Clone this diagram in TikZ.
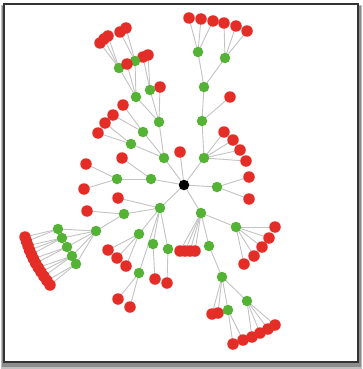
\documentclass[tikz,border=0pt]{standalone}
\definecolor{nodered}{RGB}{228,45,38}
\definecolor{nodegreen}{RGB}{84,178,52}
\definecolor{edgegray}{RGB}{195,195,195}
\pgfdeclarelayer{back}
\pgfdeclarelayer{edges}
\pgfsetlayers{back,edges,main}
\tikzset{
  rd/.style={circle,fill=nodered,inner sep=0pt,minimum size=11.5pt},
  gn/.style={circle,fill=nodegreen,inner sep=0pt,minimum size=10.5pt},
  hub/.style={circle,fill=black,inner sep=0pt,minimum size=10.5pt},
  edge/.style={draw=edgegray,line width=0.9pt},
  framebox/.style={draw=black!80,line width=1.3pt,fill=white},
  shadowbox/.style={fill=black!45}
}
\begin{document}
\begin{tikzpicture}[x=1pt,y=-1pt]
\useasboundingbox (0,0) rectangle (363,369);
\begin{pgfonlayer}{back}
\fill[black!25] (1,5) rectangle (362,369);
\fill[shadowbox] (2,6) rectangle (361,367);
\path[framebox] (4,4) rectangle (358,362);
\end{pgfonlayer}

% centre
\node[hub] (c) at (184,185) {};
% upper branch
\node[gn] (g1) at (204,158) {};
\node[gn] (g2) at (202,121) {};
\node[gn] (g3) at (204,87) {};
\node[gn] (g4) at (198,52) {};
\node[gn] (g5) at (225,58) {};
\node[rd] (r1a) at (224,132) {};
\node[rd] (r1b) at (233,140) {};
\node[rd] (r1c) at (240,150) {};
\node[rd] (r1d) at (246,161) {};
\node[rd] (r2a) at (230,97) {};
\node[rd] (r4a) at (189,18) {};
\node[rd] (r4b) at (201,19) {};
\node[rd] (r4c) at (213,21) {};
\node[rd] (r5a) at (224,23) {};
\node[rd] (r5b) at (236,26) {};
\node[rd] (r5c) at (247,31) {};
\node[rd] (rc) at (180,152) {};
% right
\node[gn] (g6) at (217,187) {};
\node[rd] (r6a) at (249,177) {};
\node[rd] (r6b) at (249,199) {};
% lower right
\node[gn] (g7) at (201,213) {};
\node[rd] (r7a) at (180,251) {};
\node[rd] (r7b) at (185,251) {};
\node[rd] (r7c) at (190,251) {};
\node[rd] (r7d) at (195,251) {};
\node[gn] (g8) at (236,227) {};
\node[rd] (r8a) at (275,227) {};
\node[rd] (r8b) at (269,238) {};
\node[rd] (r8c) at (262,247) {};
\node[rd] (r8d) at (254,256) {};
\node[rd] (r8e) at (244,264) {};
\node[gn] (g9) at (209,246) {};
\node[gn] (g10) at (222,277) {};
\node[rd] (r10a) at (212,314) {};
\node[rd] (r10b) at (218,313) {};
\node[gn] (g11) at (228,310) {};
\node[rd] (r11a) at (233,344) {};
\node[rd] (r11b) at (243,340) {};
\node[gn] (g12) at (247,301) {};
\node[rd] (r12a) at (252,337) {};
\node[rd] (r12b) at (260,333) {};
\node[rd] (r12c) at (268,329) {};
\node[rd] (r12d) at (275,325) {};
% left
\node[gn] (g13) at (151,179) {};
\node[rd] (r13a) at (122,158) {};
\node[gn] (g14) at (117,179) {};
\node[rd] (r14a) at (86,164) {};
\node[rd] (r14b) at (84,189) {};
% upper left
\node[gn] (g15) at (164,158) {};
\node[gn] (g16) at (143,132) {};
\node[rd] (r16a) at (123,105) {};
\node[rd] (r16b) at (113,115) {};
\node[gn] (g17) at (131,144) {};
\node[rd] (r17a) at (105,123) {};
\node[rd] (r17b) at (98,133) {};
\node[gn] (g18) at (159,122) {};
\node[rd] (r18a) at (160,87) {};
\node[gn] (g19) at (136,97) {};
\node[gn] (g20) at (150,90) {};
\node[rd] (r20a) at (143,57) {};
\node[rd] (r20b) at (148,55) {};
\node[gn] (g21) at (119,68) {};
\node[rd] (r21a) at (100,43) {};
\node[rd] (r21b) at (104,39) {};
\node[rd] (r21c) at (108,36) {};
\node[gn] (g22) at (135,61) {};
\node[rd] (r19a) at (127,64) {};
\node[rd] (r22a) at (120,32) {};
\node[rd] (r22b) at (126,28) {};
% lower left
\node[gn] (g23) at (160,208) {};
\node[rd] (r23a) at (118,198) {};
\node[gn] (g24) at (124,214) {};
\node[rd] (r24a) at (87,211) {};
\node[gn] (g25) at (96,231) {};
\node[gn] (g26) at (139,234) {};
\node[rd] (r26a) at (108,250) {};
\node[rd] (r26b) at (117,258) {};
\node[rd] (r26c) at (126,266) {};
\node[gn] (g27) at (153,244) {};
\node[rd] (r27a) at (155,279) {};
\node[gn] (g28) at (168,249) {};
\node[rd] (r28a) at (167,283) {};
\node[gn] (g29) at (139,273) {};
\node[rd] (r29a) at (118,299) {};
\node[rd] (r29b) at (130,307) {};
% fan
\foreach \i/\x/\y in {1/58/229,2/62/238,3/67/247,4/72/256,5/76/264}
  \node[gn] (f\i) at (\x,\y) {};
\foreach \i/\x/\y in {1/25/237,2/26.5/241.4,3/28/245.7,4/29.5/250.1,5/31.4/254.5,6/33.4/258.8,
  7/35.6/263.2,8/38.2/267.5,9/40.9/271.9,10/43.9/276.3,11/46.9/280.6,12/50/285}
  \node[rd] (a\i) at (\x,\y) {};

\begin{pgfonlayer}{edges}
\foreach \p/\q in {c/g1,g1/g2,g2/g3,g3/g4,g3/g5,g1/r1a,g1/r1b,g1/r1c,g1/r1d,g2/r2a,
  g4/r4a,g4/r4b,g4/r4c,g5/r5a,g5/r5b,g5/r5c,c/rc,
  c/g6,g6/r6a,g6/r6b,
  c/g7,g7/r7a,g7/r7b,g7/r7c,g7/r7d,g7/g8,g8/r8a,g8/r8b,g8/r8c,g8/r8d,g8/r8e,
  g7/g9,g9/g10,g10/r10a,g10/r10b,g10/g11,g10/g12,g11/r11a,g11/r11b,
  g12/r12a,g12/r12b,g12/r12c,g12/r12d,
  c/g13,g13/r13a,g13/g14,g14/r14a,g14/r14b,
  c/g15,g15/g16,g15/g17,g15/g18,g16/r16a,g16/r16b,g17/r17a,g17/r17b,
  g18/r18a,g18/g19,g18/g20,g20/r20a,g20/r20b,g19/g21,g19/g22,g19/r19a,
  g21/r21a,g21/r21b,g21/r21c,g22/r22a,g22/r22b,
  c/g23,g23/r23a,g23/g24,g24/r24a,g24/g25,g23/g26,g26/r26a,g26/r26b,g26/r26c,
  g23/g27,g27/r27a,g23/g28,g28/r28a,g23/g29,g29/r29a,g29/r29b,
  g25/f1,g25/f2,g25/f3,g25/f4,g25/f5,
  f1/a1,f1/a2,f2/a3,f2/a4,f2/a5,f3/a6,f3/a7,f4/a8,f4/a9,f4/a10,f5/a11,f5/a12}
  \draw[edge] (\p.center) -- (\q.center);
\end{pgfonlayer}
\end{tikzpicture}
\end{document}
